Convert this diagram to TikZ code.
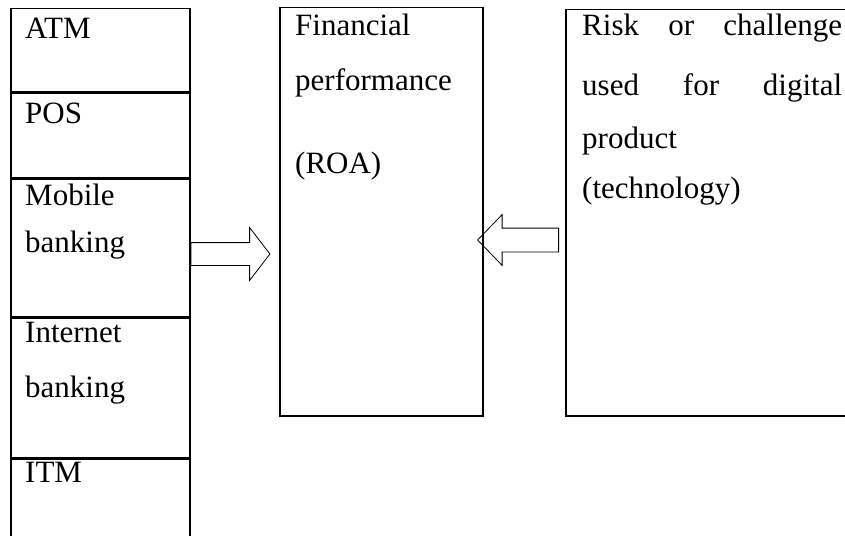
\documentclass[tikz,border=0pt]{standalone}
\usepackage{fontspec}
\setmainfont{Liberation Serif}
\usetikzlibrary{shapes.arrows,positioning}

\begin{document}
\begin{tikzpicture}[x=1pt, y=-1pt,
    cell/.style={draw, line width=1.5pt, anchor=north west, inner sep=0pt, minimum width=179pt},
    box/.style={draw, line width=1.5pt, anchor=north west, inner sep=0pt},
    txt/.style={anchor=base west, inner sep=0pt, font=\fontsize{31}{37}\selectfont},
    fat/.style={single arrow, draw, line width=0.8pt, inner xsep=0pt, anchor=tail}
]
    \useasboundingbox (0,0) rectangle (845,535);

    % Channels column (left)
    \node[cell, minimum height=83pt] (atm) at (10,8) {};
    \node[cell, minimum height=84pt] (pos) at (atm.south west) {};
    \node[cell, minimum height=138pt] (mobile) at (pos.south west) {};
    \node[cell, minimum height=139pt] (internet) at (mobile.south west) {};
    \node[cell, minimum height=150pt] (itm) at (internet.south west) {};

    \node[txt] (tatm) at (25,38) {ATM};
    \node[txt] (tpos) at (25,123) {POS};
    \node[txt] (tmob1) at (25,205) {Mobile};
    \node[txt] (tmob2) at (25,252) {banking};
    \node[txt] (tint1) at (25,342) {Internet};
    \node[txt] (tint2) at (25,397) {banking};
    \node[txt] (titm) at (25,482) {ITM};

    % Performance box (middle)
    \node[box, minimum width=203pt, minimum height=408pt] (perf) at (279,7) {};
    \node[txt] (tperf1) at (295,36) {Financial};
    \node[txt] (tperf2) at (295,90) {performance};
    \node[txt] (tperf3) at (295,173) {(ROA)};

    % Risk box (right)
    \node[box, minimum width=300pt, minimum height=406pt] (risk) at (565,9) {};
    \node[txt] (trisk1) at (582,36) {\makebox[260pt][s]{Risk or challenge}};
    \node[txt] (trisk2) at (582,95) {\makebox[260pt][s]{used for digital}};
    \node[txt] (trisk3) at (582,148) {product};
    \node[txt] (trisk4) at (582,198) {(technology)};

    % Block arrows
    \node[fat, inner ysep=11pt, minimum height=79pt, single arrow head extend=15pt,
          single arrow tip angle=105] (toperf) at (mobile.east |- 0,254) {};
    \node[fat, inner ysep=11.5pt, minimum height=81pt, single arrow head extend=13.5pt,
          single arrow tip angle=92, shape border rotate=180] (fromrisk) at (559,240) {};
\end{tikzpicture}
\end{document}
